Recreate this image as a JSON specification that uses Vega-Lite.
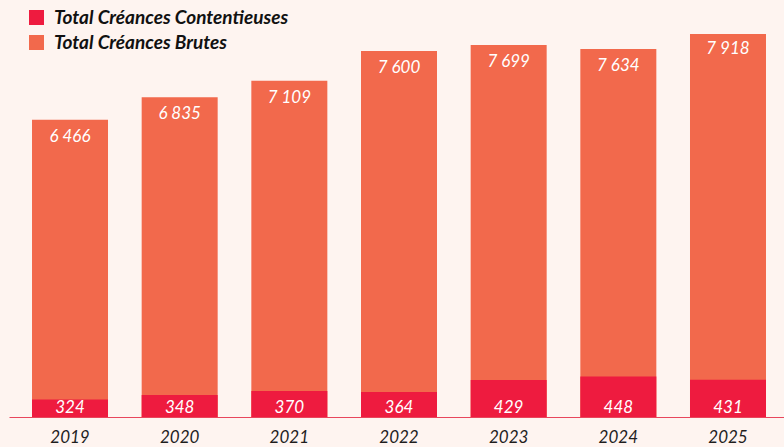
{
  "$schema": "https://vega.github.io/schema/vega-lite/v6.json",
  "width": 775,
  "height": 383,
  "autosize": {"type": "none"},
  "padding": {"left": 9, "top": 34, "right": 0, "bottom": 30},
  "background": "#FEF4F0",
  "config": {
    "view": {"stroke": null},
    "font": "Lato",
    "locale": {
      "number": {"decimal": ",", "thousands": "\u202f", "grouping": [3], "currency": ["", " €"]}
    }
  },
  "data": {
    "values": [
      {"annee": "2019", "brutes": 6466, "contentieuses": 324},
      {"annee": "2020", "brutes": 6835, "contentieuses": 348},
      {"annee": "2021", "brutes": 7109, "contentieuses": 370},
      {"annee": "2022", "brutes": 7600, "contentieuses": 364},
      {"annee": "2023", "brutes": 7699, "contentieuses": 429},
      {"annee": "2024", "brutes": 7634, "contentieuses": 448},
      {"annee": "2025", "brutes": 7918, "contentieuses": 431}
    ]
  },
  "encoding": {
    "x": {
      "field": "annee",
      "type": "ordinal",
      "scale": {"paddingInner": 0.307, "paddingOuter": 0.187, "align": 0.561},
      "axis": {
        "title": null,
        "labelAngle": 0,
        "ticks": false,
        "tickSize": 0,
        "labelPadding": 12,
        "labelFont": "Lato",
        "labelFontSize": 17,
        "labelFontStyle": "italic",
        "labelColor": "#1E1E1E",
        "domainColor": "#E8465C",
        "domainWidth": 1
      }
    }
  },
  "layer": [
    {
      "encoding": {
        "y": {"field": "brutes", "type": "quantitative", "scale": {"domain": [1560, 7880]}, "axis": null}
      },
      "layer": [
        {
          "mark": {"type": "bar", "clip": true},
          "encoding": {
            "color": {
              "datum": "Total Créances Brutes",
              "type": "nominal",
              "scale": {
                "domain": ["Total Créances Contentieuses", "Total Créances Brutes"],
                "range": ["#EE1B3F", "#F2694C"]
              },
              "legend": {
                "orient": "none",
                "legendX": 18,
                "legendY": -26,
                "title": null,
                "padding": 0,
                "symbolType": "square",
                "symbolSize": 225,
                "symbolStrokeWidth": 0,
                "symbolOpacity": 1,
                "labelFont": "Lato",
                "labelFontSize": 19,
                "labelFontWeight": "bold",
                "labelFontStyle": "italic",
                "labelColor": "#111111",
                "labelOffset": 8,
                "labelLimit": 0,
                "rowPadding": 5
              }
            }
          }
        },
        {
          "mark": {"type": "text", "baseline": "middle", "dy": 17, "font": "Lato", "fontSize": 17, "fontStyle": "italic", "color": "#FFFFFF"},
          "encoding": {
            "text": {"field": "brutes", "type": "quantitative", "format": ",d"}
          }
        }
      ]
    },
    {
      "encoding": {
        "y": {"field": "contentieuses", "type": "quantitative", "scale": {"domain": [229, 2303]}, "axis": null}
      },
      "layer": [
        {
          "mark": {"type": "bar", "clip": true},
          "encoding": {
            "color": {"datum": "Total Créances Contentieuses", "type": "nominal"}
          }
        },
        {
          "mark": {"type": "text", "baseline": "alphabetic", "dy": -4, "font": "Lato", "fontSize": 17, "fontStyle": "italic", "color": "#FFFFFF"},
          "encoding": {
            "y": {"datum": 229, "type": "quantitative"},
            "text": {"field": "contentieuses", "type": "quantitative", "format": ",d"}
          }
        }
      ]
    }
  ],
  "resolve": {"scale": {"y": "independent"}}
}
